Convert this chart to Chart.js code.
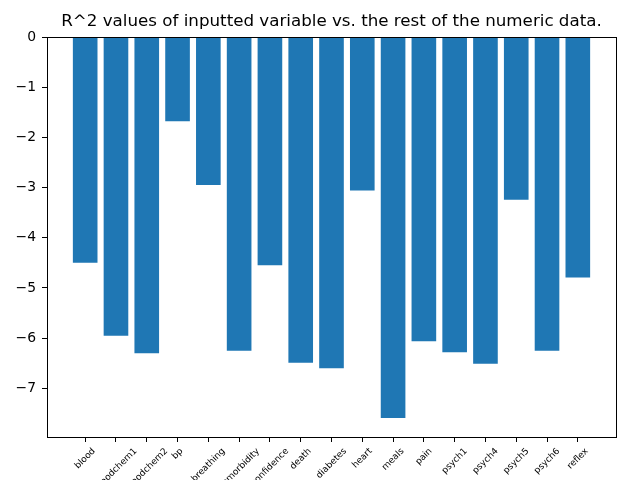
<!DOCTYPE html>
<html>
<head>
<meta charset="utf-8">
<script src="https://cdn.jsdelivr.net/npm/chart.js@4.4.1/dist/chart.umd.min.js"></script>
<style>
html, body { margin: 0; padding: 0; background: #fff; overflow: hidden; }
</style>
</head>
<body>
<canvas id="myChart" width="640" height="480"></canvas>
<script>
const variables = ['blood', 'bloodchem1', 'bloodchem2', 'bp', 'breathing', 'comorbidity',
    'confidence', 'death', 'diabetes', 'heart', 'meals', 'pain', 'psych1', 'psych4',
    'psych5', 'psych6', 'reflex'];
const rSquared = [-4.50, -5.95, -6.30, -1.68, -2.95, -6.25, -4.55, -6.49, -6.60,
    -3.06, -7.59, -6.06, -6.28, -6.51, -3.24, -6.25, -4.79];
const yTicks = [0, -1, -2, -3, -4, -5, -6, -7];
const yMin = -7.97;
const xMin = -1.24;
const xMax = 17.24;

const canvas = document.getElementById('myChart');
const ctx = canvas.getContext('2d');

// matplotlib style: labels centred under the tick, rotated 45 degrees, plus a full frame
const xLabels = {
    id: 'xLabels',
    afterDraw(chart) {
        const c = chart.ctx;
        const xs = chart.scales.x;
        const area = chart.chartArea;
        c.save();
        c.font = '9px "DejaVu Sans"';
        c.fillStyle = '#000';
        c.textAlign = 'center';
        c.textBaseline = 'middle';
        variables.forEach((name, i) => {
            const w = c.measureText(name).width;
            const half = (w + 10.5) / (2 * Math.SQRT2);
            const x = xs.getPixelForValue(i);
            const y = area.bottom + 9 + half;
            c.save();
            c.translate(x, y);
            c.rotate(-Math.PI / 4);
            c.fillText(name, 0, 0);
            c.restore();
        });
        c.strokeStyle = '#000';
        c.lineWidth = 1;
        c.strokeRect(Math.round(area.left) + 0.5, Math.round(area.top) + 0.5,
            Math.round(area.right - area.left), Math.round(area.bottom - area.top));
        c.restore();
    }
};

let chart = new Chart(ctx, {
    type: 'bar',
    data: {
        datasets: [{
            data: rSquared.map((v, i) => ({x: i, y: v})),
            backgroundColor: '#1f77b4',
            borderWidth: 0,
            categoryPercentage: 0.8,
            barPercentage: 1.0
        }]
    },
    options: {
        responsive: false,
        animation: false,
        devicePixelRatio: 1,
        layout: {padding: {right: 24, left: 0, bottom: 0, top: 0}},
        plugins: {
            legend: {display: false},
            tooltip: {enabled: false},
            title: {
                display: true,
                text: 'R^2 values of inputted variable vs. the rest of the numeric data.',
                fullSize: false,
                color: '#000',
                font: {family: 'DejaVu Sans', size: 16.7, weight: 'normal'},
                padding: {top: 12, bottom: 5}
            }
        },
        scales: {
            x: {
                type: 'linear',
                min: xMin,
                max: xMax,
                offset: false,
                afterBuildTicks: (scale) => {
                    scale.ticks = variables.map((_, i) => ({value: i}));
                },
                afterFit: (scale) => { scale.height = 43; },
                ticks: {display: false},
                grid: {offset: false, drawOnChartArea: false, drawTicks: true, tickLength: 5, color: '#000'},
                border: {display: false}
            },
            y: {
                min: yMin,
                max: 0,
                afterBuildTicks: (scale) => {
                    scale.ticks = yTicks.map(v => ({value: v}));
                },
                afterFit: (scale) => { scale.width = 47; },
                ticks: {
                    color: '#000',
                    padding: 6,
                    font: {family: 'DejaVu Sans', size: 13.9},
                    callback: (v) => v < 0 ? '\u2212' + Math.abs(v) : String(v)
                },
                grid: {drawOnChartArea: false, drawTicks: true, tickLength: 5, color: '#000'},
                border: {display: false}
            }
        }
    },
    plugins: [xLabels]
});
</script>
</body>
</html>
